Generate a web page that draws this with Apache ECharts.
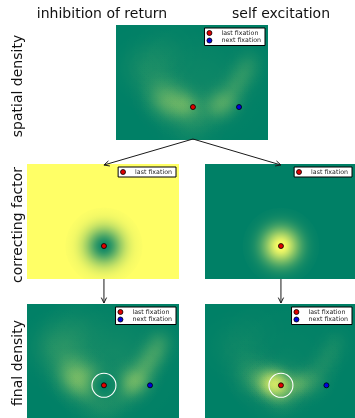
<!DOCTYPE html>
<html>
<head>
<meta charset="utf-8">
<script src="https://cdn.jsdelivr.net/npm/echarts@6/dist/echarts.min.js"></script>
<style>
  html, body { margin: 0; padding: 0; background: #ffffff; }
  #chart { width: 355px; height: 418px; }
</style>
</head>
<body>
<div id="chart"></div>
<script>
// ---- labels ----
const columnTitles = ['inhibition of return', 'self excitation'];
const rowTitles = ['spatial density', 'correcting factor', 'final density'];
const legendNames = ['last fixation', 'next fixation'];

// ---- fixations (image coordinates, 160 x 120) ----
const lastFixation = [81, 85.6];
const nextFixation = [129.5, 85.6];

// ---- spatial density: gaussian kernels (centre, width, peak) ----
const kernelX      = [62,   74,   50,   45,   108,  118,  126,  134,  140,  30,   50,   88,   78,   90];
const kernelY      = [82,   84,   78,   66,   84,   78,   64,   52,   40,   45,   30,   94,   106,  60];
const kernelSigma  = [12,   9,    11,   13,   10,   9,    9,    9,    9,    16,   16,   12,   14,   30];
const kernelWeight = [0.25, 0.20, 0.15, 0.10, 0.22, 0.15, 0.12, 0.11, 0.08, 0.07, 0.04, 0.07, 0.05, 0.05];

// ---- correcting factor around the last fixation ----
const correctionSigma = 13.5;
const inhibitionDepth = 0.95;
const excitationPeak = 1.0;
const excitationGain = 6;
const inhibitionScale = 1.5;
const excitationScale = 0.5;

// summer colormap end points
const LOW = '0,128,102';
const HIGH = '255,255,102';

function densityKernels(scale) {
  return kernelX.map((x, i) => [x, kernelY[i], kernelSigma[i], kernelWeight[i] * scale]);
}

// density multiplied by (1 + gain * gaussian at the last fixation)
function excitedKernels() {
  const out = densityKernels(excitationScale);
  const c2 = correctionSigma * correctionSigma;
  kernelX.forEach((x, i) => {
    const y = kernelY[i];
    const s2 = kernelSigma[i] * kernelSigma[i];
    const dx = x - lastFixation[0], dy = y - lastFixation[1];
    const d2 = dx * dx + dy * dy;
    const w = kernelWeight[i] * excitationGain * Math.exp(-d2 / (2 * (s2 + c2))) * excitationScale;
    const cx = (x * c2 + lastFixation[0] * s2) / (s2 + c2);
    const cy = (y * c2 + lastFixation[1] * s2) / (s2 + c2);
    out.push([cx, cy, Math.sqrt(s2 * c2 / (s2 + c2)), w]);
  });
  return out;
}

function gaussianRender(rgb) {
  return function (params, api) {
    const c = api.coord([api.value(0), api.value(1)]);
    const sz = api.size([api.value(2), api.value(2)]);
    const sigmaPx = (sz[0] + sz[1]) / 2;
    const w = Math.min(1, api.value(3));
    const stops = [];
    for (let k = 0; k <= 16; k++) {
      const t = k / 16;
      const a = w * Math.exp(-Math.pow(3 * t, 2) / 2);
      stops.push({ offset: t, color: 'rgba(' + rgb + ',' + a.toFixed(4) + ')' });
    }
    return {
      type: 'circle',
      silent: true,
      shape: { cx: c[0], cy: c[1], r: 3 * sigmaPx },
      style: { fill: { type: 'radial', x: 0.5, y: 0.5, r: 0.5, colorStops: stops } }
    };
  };
}

// ---- panel layout ----
const panels = [
  { left: 116, top: 25,  width: 152, height: 115, bg: 'rgb(' + LOW + ')'  },
  { left: 27,  top: 164, width: 152, height: 115, bg: 'rgb(' + HIGH + ')' },
  { left: 205, top: 164, width: 150, height: 115, bg: 'rgb(' + LOW + ')'  },
  { left: 27,  top: 304, width: 152, height: 114, bg: 'rgb(' + LOW + ')'  },
  { left: 205, top: 304, width: 150, height: 114, bg: 'rgb(' + LOW + ')'  }
];
const W = 355;

const grid = panels.map(p => ({
  left: p.left, top: p.top, width: p.width, height: p.height,
  show: true, backgroundColor: p.bg, borderWidth: 0, containLabel: false
}));
const xAxis = panels.map((p, i) => ({ type: 'value', gridIndex: i, min: 0, max: 160, show: false }));
const yAxis = panels.map((p, i) => ({ type: 'value', gridIndex: i, min: 0, max: 120, inverse: true, show: false }));

const series = [];
function gaussSeries(i, rgb, data) {
  series.push({
    type: 'custom', xAxisIndex: i, yAxisIndex: i, clip: true, silent: true, z: 1,
    renderItem: gaussianRender(rgb), data: data
  });
}
function fixationSeries(i, withNext) {
  series.push({
    type: 'scatter', name: legendNames[0], xAxisIndex: i, yAxisIndex: i, z: 5, silent: true,
    symbolSize: 5, itemStyle: { color: '#e00000', borderColor: '#000', borderWidth: 0.8, opacity: 1 },
    data: [lastFixation]
  });
  if (withNext) {
    series.push({
      type: 'scatter', name: legendNames[1], xAxisIndex: i, yAxisIndex: i, z: 5, silent: true,
      symbolSize: 5, itemStyle: { color: '#0000e0', borderColor: '#000', borderWidth: 0.8, opacity: 1 },
      data: [nextFixation]
    });
  }
}
function ringSeries(i) {
  series.push({
    type: 'scatter', name: 'correction radius', xAxisIndex: i, yAxisIndex: i, z: 4, silent: true,
    symbolSize: 24, itemStyle: { color: 'rgba(0,0,0,0)', borderColor: '#ffffff', borderWidth: 1.1, opacity: 1 },
    data: [lastFixation]
  });
}

// spatial density
gaussSeries(0, HIGH, densityKernels(1));
fixationSeries(0, true);
// correcting factor: inhibition of return
gaussSeries(1, LOW, [[lastFixation[0], lastFixation[1], correctionSigma, inhibitionDepth]]);
fixationSeries(1, false);
// correcting factor: self excitation
gaussSeries(2, HIGH, [[lastFixation[0], lastFixation[1], correctionSigma, excitationPeak]]);
fixationSeries(2, false);
// final density: inhibition of return
gaussSeries(3, HIGH, densityKernels(inhibitionScale));
gaussSeries(3, LOW, [[lastFixation[0], lastFixation[1], correctionSigma, inhibitionDepth]]);
ringSeries(3);
fixationSeries(3, true);
// final density: self excitation
gaussSeries(4, HIGH, excitedKernels());
ringSeries(4);
fixationSeries(4, true);

const legend = panels.map((p, i) => ({
  orient: 'vertical',
  right: W - (p.left + p.width) + 3,
  top: p.top + 3,
  data: (i === 1 || i === 2) ? [legendNames[0]] : legendNames,
  icon: 'circle',
  itemWidth: 14, itemHeight: 5, itemGap: 1.5,
  padding: [2, 4, 2, 2],
  backgroundColor: '#ffffff', borderColor: '#000000', borderWidth: 1, borderRadius: 0,
  selectedMode: false,
  itemStyle: { borderColor: '#000', borderWidth: 0.8 },
  textStyle: { fontSize: 6.3, fontFamily: 'DejaVu Sans', color: '#222' }
}));

// ---- arrows between panels ----
function arrow(x1, y1, x2, y2) {
  const ang = Math.atan2(y2 - y1, x2 - x1);
  const L = 6, H = 0.45;
  const a1 = [x2 - L * Math.cos(ang - H), y2 - L * Math.sin(ang - H)];
  const a2 = [x2 - L * Math.cos(ang + H), y2 - L * Math.sin(ang + H)];
  return [
    { type: 'polyline', shape: { points: [[x1, y1], [x2, y2]] }, style: { stroke: '#1a1a1a', lineWidth: 1, fill: null }, z: 10 },
    { type: 'polyline', shape: { points: [a1, [x2, y2], a2] }, style: { stroke: '#1a1a1a', lineWidth: 1, fill: null }, z: 10 }
  ];
}
function px(p, f) { return p.left + p.width * f; }
const fxFrac = lastFixation[0] / 160;
const top0 = panels[0];
const srcX = px(top0, fxFrac), srcY = top0.top + top0.height - 1;
const graphic = [].concat(
  arrow(srcX, srcY, px(panels[1], fxFrac), panels[1].top + 1),
  arrow(srcX, srcY, px(panels[2], fxFrac), panels[2].top + 1),
  arrow(px(panels[1], fxFrac), panels[1].top + panels[1].height, px(panels[3], fxFrac), panels[3].top - 1),
  arrow(px(panels[2], fxFrac), panels[2].top + panels[2].height, px(panels[4], fxFrac), panels[4].top - 1)
);

const textFont = { fontSize: 14, fontFamily: 'DejaVu Sans', fill: '#111', align: 'center', verticalAlign: 'middle' };
graphic.push(
  { type: 'text', x: 102, y: 14, style: Object.assign({ text: columnTitles[0] }, textFont) },
  { type: 'text', x: 281, y: 14, style: Object.assign({ text: columnTitles[1] }, textFont) },
  { type: 'text', x: 18, y: 86, rotation: Math.PI / 2, style: Object.assign({ text: rowTitles[0] }, textFont) },
  { type: 'text', x: 18, y: 225, rotation: Math.PI / 2, style: Object.assign({ text: rowTitles[1] }, textFont) },
  { type: 'text', x: 18, y: 363, rotation: Math.PI / 2, style: Object.assign({ text: rowTitles[2] }, textFont) }
);

const chart = echarts.init(document.getElementById('chart'), null, { renderer: 'canvas' });
chart.setOption({
  animation: false,
  backgroundColor: '#ffffff',
  grid: grid,
  xAxis: xAxis,
  yAxis: yAxis,
  legend: legend,
  tooltip: { show: false },
  series: series,
  graphic: graphic
});
</script>
</body>
</html>
